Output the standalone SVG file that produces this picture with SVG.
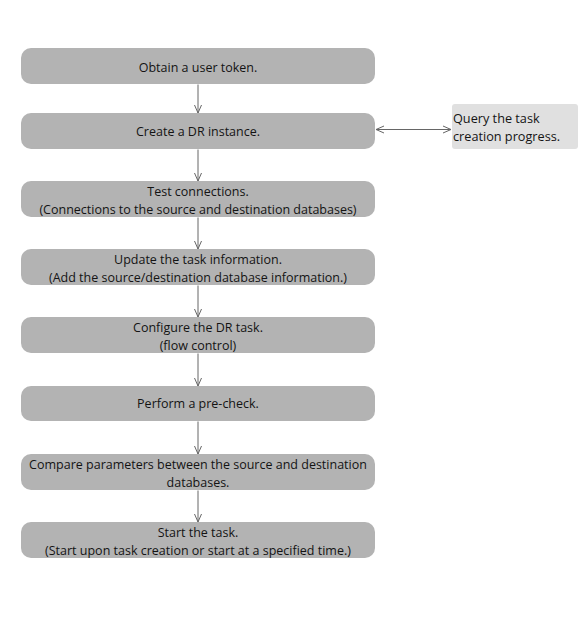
<svg xmlns="http://www.w3.org/2000/svg" width="581" height="617" viewBox="0 0 581 617">
<defs>
<style>
.box{fill:#b3b3b3;}
.side{fill:#e0e0e0;}
.t{font-family:"Open Sans","Noto Sans",sans-serif;font-size:12.5px;fill:#141414;text-anchor:middle;}
.tl{font-family:"Open Sans","Noto Sans",sans-serif;font-size:12.7px;fill:#141414;}
.c{stroke:#666;stroke-width:1;fill:none;}
</style>
<marker id="ah" viewBox="0 0 10 10" refX="9.5" refY="5" markerWidth="10" markerHeight="10" markerUnits="userSpaceOnUse" orient="auto-start-reverse">
<path d="M1.5,1.5 L9.5,5 L1.5,8.5" fill="none" stroke="#666" stroke-width="1"/>
</marker>
</defs>
<rect width="581" height="617" fill="#fff"/>
<g id="connectors">
<line class="c" x1="198" y1="84.5" x2="198" y2="113" marker-end="url(#ah)"/>
<line class="c" x1="198" y1="149.5" x2="198" y2="181" marker-end="url(#ah)"/>
<line class="c" x1="198" y1="217.5" x2="198" y2="249" marker-end="url(#ah)"/>
<line class="c" x1="198" y1="285.5" x2="198" y2="317" marker-end="url(#ah)"/>
<line class="c" x1="198" y1="353.5" x2="198" y2="386" marker-end="url(#ah)"/>
<line class="c" x1="198" y1="421.5" x2="198" y2="454" marker-end="url(#ah)"/>
<line class="c" x1="198" y1="490.5" x2="198" y2="522" marker-end="url(#ah)"/>
<line class="c" x1="376" y1="129.5" x2="451" y2="129.5" marker-start="url(#ah)" marker-end="url(#ah)"/>
</g>
<g id="n1"><rect class="box" x="21" y="48" width="354" height="36" rx="10"/><text class="t" x="198" y="71.5">Obtain a user token.</text></g>
<g id="n2"><rect class="box" x="21" y="113" width="354" height="36" rx="10"/><text class="t" x="198" y="136">Create a DR instance.</text></g>
<g id="side"><rect class="side" x="452" y="104" width="126" height="45" rx="3"/><text class="tl" x="453" y="123">Query the task</text><text class="tl" x="453" y="141">creation progress.</text></g>
<g id="n3"><rect class="box" x="21" y="181" width="354" height="36" rx="10"/><text class="t" x="198" y="196">Test connections.</text><text class="t" x="198" y="214">(Connections to the source and destination databases)</text></g>
<g id="n4"><rect class="box" x="21" y="249" width="354" height="36" rx="10"/><text class="t" x="198" y="264">Update the task information.</text><text class="t" x="198" y="282">(Add the source/destination database information.)</text></g>
<g id="n5"><rect class="box" x="21" y="317" width="354" height="36" rx="10"/><text class="t" x="198" y="332">Configure the DR task.</text><text class="t" x="198" y="350">(flow control)</text></g>
<g id="n6"><rect class="box" x="21" y="386" width="354" height="35" rx="10"/><text class="t" x="198" y="408">Perform a pre-check.</text></g>
<g id="n7"><rect class="box" x="21" y="454" width="354" height="36" rx="10"/><text class="t" x="198" y="469">Compare parameters between the source and destination</text><text class="t" x="198" y="487">databases.</text></g>
<g id="n8"><rect class="box" x="21" y="522" width="354" height="36" rx="10"/><text class="t" x="198" y="537">Start the task.</text><text class="t" x="198" y="555">(Start upon task creation or start at a specified time.)</text></g>
</svg>
